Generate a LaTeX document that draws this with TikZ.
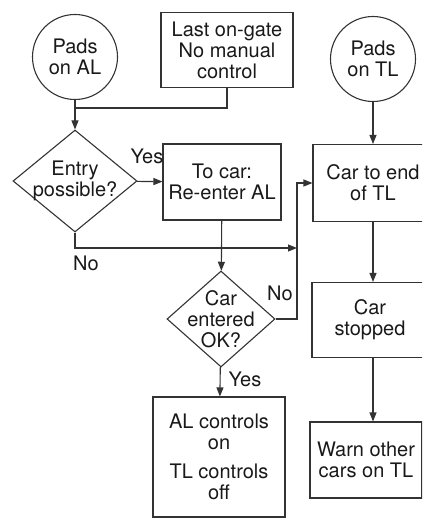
\documentclass[tikz,border=0pt]{standalone}
\usepackage{fontspec}
\setmainfont{TeX Gyre Heros}
\usetikzlibrary{arrows.meta,shapes.geometric}

\newcommand*{\picw}{422}
\newcommand*{\pich}{518}

\begin{document}
\begin{tikzpicture}
[
	x=1pt,y=-1pt,
	line width=1.1pt,
	draw=black!80,
	>={Triangle[length=9pt,width=7pt]},
	font=\fontsize{20}{21}\selectfont,
	text=black!90,
	padpt/.style={circle,draw,inner sep=0pt,minimum size=85pt,align=center},
	procbox/.style={rectangle,draw,inner sep=0pt,align=center},
	decision/.style={diamond,draw,inner sep=0pt}
]

	\clip (0,0) rectangle (\picw,\pich);

	% start circles
	\node[padpt] (padsAL) at (75,57) {Pads\\on AL};
	\node[padpt] (padsTL) at (373,59) {Pads\\on TL};

	% boxes
	\node[procbox,minimum width=132pt,minimum height=75pt] (lastgate) at (227,50) {Last on-gate\\No manual\\control};
	\node[procbox,minimum width=118pt,minimum height=76pt] (tocar) at (222,182) {To car:\\Re-enter AL};
	\node[procbox,minimum width=120pt,minimum height=77pt] (carend) at (373,183) {Car to end\\of TL};
	\node[procbox,minimum width=116pt,minimum height=75pt] (stopped) at (370,320) {Car\\stopped};
	\node[procbox,minimum width=112pt,minimum height=76pt] (warn) at (366,460) {Warn other\\cars on TL};
	\node[procbox,minimum width=132pt,minimum height=120pt] (alctl) at (219,457) {AL controls\\on\\[8pt]TL controls\\off};

	% decisions
	\node[decision,minimum width=124pt,minimum height=102pt,
		label={[align=center]center:Entry\\possible?}] (entry) at (75,181) {};
	\node[decision,minimum width=108pt,minimum height=96pt,
		label={[align=center]center:Car\\entered\\OK?}] (entered) at (221,319) {};

	% joins
	\coordinate (join) at (75,108);
	\coordinate (noin) at (297,248);
	\coordinate (riser) at (297,183);

	% connectors
	\draw (lastgate.south) |- (join);
	\draw[->] (padsAL) -- (entry);
	\draw[->] (entry) -- (tocar);
	\node (yes1) at (147,156) {Yes};
	\draw[->] (entry.south) |- (noin);
	\node (no1) at (86,263) {No};
	\draw[->] (tocar) -- (entered);
	\draw[->] (entered.east) -| (riser) -- (carend.west);
	\node (no2) at (280,293) {No};
	\draw[->] (entered) -- (alctl);
	\node (yes2) at (245,379) {Yes};
	\draw[->] (padsTL) -- (carend);
	\draw[->] (carend.south) -- (carend.south |- stopped.north);
	\draw[->] (carend.south |- stopped.south) -- (carend.south |- warn.north);

\end{tikzpicture}
\end{document}
